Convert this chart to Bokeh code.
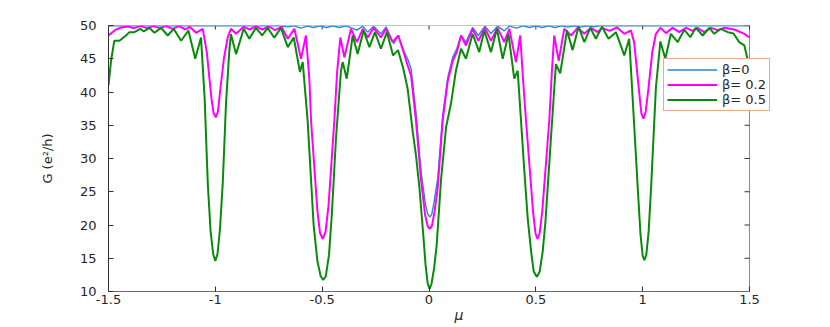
from bokeh.plotting import figure
from bokeh.models import FixedTicker, Legend, LegendItem, Range1d
from bokeh.embed import file_html
from bokeh.resources import INLINE

# ---------------- data ----------------
x_ticks = [-1.5, -1.0, -0.5, 0.0, 0.5, 1.0, 1.5]
x_tick_labels = ["-1.5", "-1", "-0.5", "0", "0.5", "1", "1.5"]
y_ticks = [10, 15, 20, 25, 30, 35, 40, 45, 50]

series_names = ["\u03b2=0", "\u03b2= 0.2", "\u03b2= 0.5"]

mu_b0 = [-1.5, -0.70, -0.66, -0.63, -0.60, -0.57, -0.54, -0.51, -0.48, -0.45, -0.42,
         -0.39, -0.36, -0.337, -0.310, -0.287, -0.259, -0.225, -0.201, -0.165, -0.144,
         -0.116, -0.100, -0.084, -0.061, -0.037, -0.016, -0.005, 0.004, 0.013, 0.024,
         0.041, 0.064, 0.088, 0.111, 0.130, 0.150, 0.173, 0.204, 0.231, 0.262, 0.290,
         0.321, 0.352, 0.376, 0.41, 0.44, 0.47, 0.50, 0.53, 0.56, 0.59, 0.62, 0.65,
         0.68, 0.71, 0.74, 0.77, 0.80, 0.85, 1.5]
G_b0 = [49.95, 49.95, 49.8, 49.95, 49.6, 49.9, 49.7, 49.95, 49.7, 49.95, 49.7,
        49.95, 49.6, 49.3, 49.9, 49.0, 49.9, 48.75, 49.8, 47.25, 48.5,
        46.0, 45.0, 43.5, 37.0, 28.0, 23.0, 21.6, 21.2, 21.6, 23.5,
        27.0, 36.5, 42.2, 45.2, 46.5, 48.5, 47.5, 49.7, 48.5, 49.9, 48.8,
        49.9, 49.2, 49.9, 49.6, 49.95, 49.7, 49.95, 49.7, 49.95, 49.7, 49.95, 49.75,
        49.95, 49.75, 49.95, 49.8, 49.95, 49.95, 49.95]

mu_b02 = [-1.500, -1.470, -1.441, -1.41, -1.38, -1.35, -1.32, -1.29, -1.26, -1.23, -1.20,
          -1.17, -1.14, -1.12, -1.090, -1.059, -1.040, -1.018, -1.008, -0.998, -0.988,
          -0.978, -0.960, -0.942, -0.927, -0.903, -0.867, -0.84, -0.81, -0.78, -0.75,
          -0.72, -0.69, -0.661, -0.630, -0.599, -0.576, -0.560, -0.552, -0.522, -0.510,
          -0.497, -0.484, -0.470, -0.443, -0.430, -0.415, -0.396, -0.365, -0.337, -0.310,
          -0.287, -0.259, -0.225, -0.201, -0.170, -0.144, -0.116, -0.100, -0.084, -0.061,
          -0.037, -0.018, -0.006, 0.004, 0.014, 0.026, 0.041, 0.064, 0.088, 0.111,
          0.130, 0.150, 0.173, 0.204, 0.231, 0.262, 0.290, 0.321, 0.352, 0.376,
          0.407, 0.427, 0.440, 0.454, 0.487, 0.498, 0.508, 0.518, 0.530, 0.563,
          0.575, 0.586, 0.607, 0.633, 0.665, 0.696, 0.727, 0.758, 0.789, 0.810,
          0.845, 0.880, 0.914, 0.945, 0.960, 0.982, 0.994, 1.004, 1.014, 1.027,
          1.045, 1.062, 1.083, 1.109, 1.140, 1.171, 1.203, 1.234, 1.256, 1.288,
          1.320, 1.351, 1.382, 1.429, 1.476, 1.500]
G_b02 = [48.5, 49.3, 49.7, 49.85, 49.6, 49.9, 49.6, 49.9, 49.6, 49.9, 49.5,
         49.9, 49.4, 49.8, 48.9, 49.5, 46.0, 39.0, 36.8, 36.2, 37.0,
         40.0, 45.0, 48.2, 49.5, 48.75, 49.8, 49.4, 49.85, 49.4, 49.85,
         49.3, 49.8, 48.0, 49.5, 45.0, 48.5, 42.0, 35.7, 22.0, 18.8,
         17.9, 19.0, 23.0, 35.7, 43.0, 48.2, 45.2, 49.5, 47.5, 49.5,
         48.2, 49.65, 48.2, 49.5, 47.5, 48.5, 45.7, 44.0, 42.5, 35.7,
         26.7, 21.5, 19.8, 19.4, 19.9, 22.0, 25.7, 35.7, 41.7, 44.7,
         46.0, 48.5, 47.0, 49.5, 47.7, 49.65, 47.7, 49.65, 47.5, 49.5,
         44.5, 48.5, 42.0, 35.7, 22.0, 18.8, 17.9, 18.8, 22.0, 35.7,
         43.0, 48.5, 44.7, 49.5, 48.5, 49.65, 48.75, 49.65, 49.0, 49.65,
         49.2, 49.7, 48.75, 49.25, 47.5, 40.5, 36.8, 36.0, 37.0, 40.5,
         46.0, 48.75, 49.65, 48.85, 49.65, 49.0, 49.65, 49.2, 49.65, 49.0,
         49.65, 49.3, 49.65, 49.4, 48.75, 48.2]

mu_b05 = [-1.500, -1.488, -1.473, -1.449, -1.418, -1.402, -1.379, -1.351, -1.335, -1.309, -1.285,
          -1.254, -1.223, -1.195, -1.160, -1.126, -1.094, -1.067, -1.050, -1.035, -1.022,
          -1.010, -1.000, -0.990, -0.978, -0.965, -0.950, -0.935, -0.927, -0.903, -0.867,
          -0.841, -0.810, -0.781, -0.755, -0.724, -0.693, -0.661, -0.633, -0.604, -0.591,
          -0.568, -0.540, -0.522, -0.507, -0.495, -0.483, -0.468, -0.455, -0.435, -0.412,
          -0.404, -0.385, -0.357, -0.334, -0.306, -0.279, -0.253, -0.225, -0.197, -0.168,
          -0.145, -0.120, -0.100, -0.076, -0.061, -0.045, -0.028, -0.016, -0.006, 0.003,
          0.012, 0.024, 0.036, 0.056, 0.080, 0.103, 0.126, 0.150, 0.173, 0.204,
          0.235, 0.259, 0.290, 0.318, 0.345, 0.372, 0.399, 0.415, 0.430, 0.446,
          0.462, 0.478, 0.490, 0.505, 0.518, 0.532, 0.545, 0.571, 0.594, 0.614,
          0.646, 0.672, 0.700, 0.727, 0.755, 0.781, 0.810, 0.840, 0.875, 0.914,
          0.937, 0.955, 0.978, 0.990, 1.000, 1.008, 1.017, 1.028, 1.040, 1.062,
          1.083, 1.106, 1.132, 1.164, 1.195, 1.223, 1.249, 1.281, 1.312, 1.335,
          1.366, 1.398, 1.425, 1.452, 1.476, 1.494, 1.500]
G_b05 = [41.0, 44.7, 47.7, 47.7, 48.5, 49.0, 49.0, 49.5, 49.1, 49.65, 48.9,
         49.65, 48.5, 49.5, 47.7, 49.25, 45.0, 48.2, 39.0, 26.0, 19.0,
         15.6, 14.6, 15.6, 19.5, 26.5, 38.3, 46.0, 48.7, 45.7, 49.5,
         48.0, 49.65, 48.5, 49.65, 48.15, 49.65, 46.75, 48.2, 43.0, 44.5,
         35.7, 20.0, 14.5, 12.3, 11.75, 12.3, 15.5, 21.5, 33.2, 43.2,
         44.5, 42.0, 48.5, 45.7, 49.25, 46.75, 49.0, 46.5, 49.0, 45.5,
         46.3, 43.5, 40.5, 34.0, 30.5, 25.7, 19.0, 14.0, 11.2, 10.4,
         11.2, 13.5, 17.0, 26.7, 34.7, 38.3, 43.2, 46.5, 45.0, 48.75,
         46.0, 49.25, 46.0, 49.5, 45.0, 48.7, 42.0, 43.2, 36.0, 28.2,
         21.0, 16.0, 13.0, 12.2, 13.0, 16.0, 20.5, 33.2, 44.2, 42.8,
         49.25, 46.3, 49.8, 47.5, 49.65, 48.0, 49.8, 48.0, 49.0, 45.5,
         48.0, 38.0, 25.0, 18.5, 15.4, 14.7, 15.5, 19.0, 26.0, 40.7,
         47.6, 45.0, 48.75, 47.5, 49.35, 48.25, 49.65, 48.5, 49.65, 48.75,
         49.5, 49.0, 48.8, 47.5, 47.0, 44.5, 41.0]

# ---------------- layout ----------------
FONT = "DejaVu Sans"
AX_COLOR = "#303030"
BOX_COLOR = "#8c8c8c"

AXES_W = 641          # pixel width of the plotted box (x from -1.5 to 1.5)
FRAME_W = 701         # frame is a bit wider so that the legend can stick out of the box
FRAME_H = 266
LEFT, TOP = 108, 25
WIDTH, HEIGHT = 815, 327

xmin, xmax_box = x_ticks[0], x_ticks[-1]
ymin, ymax = y_ticks[0], y_ticks[-1]
x_per_px = (xmax_box - xmin) / AXES_W
y_per_px = (ymax - ymin) / FRAME_H
xmax = xmin + FRAME_W * x_per_px

p = figure(width=WIDTH, height=HEIGHT, output_backend="svg", toolbar_location=None,
           x_range=Range1d(xmin, xmax), y_range=Range1d(ymin, ymax),
           min_border_left=LEFT, min_border_right=WIDTH - LEFT - FRAME_W,
           min_border_top=TOP, min_border_bottom=HEIGHT - TOP - FRAME_H)
p.grid.visible = False
p.outline_line_color = None
p.background_fill_color = "white"
p.border_fill_color = "white"

# box: top and right edges + mirrored ticks
p.segment(x0=[xmin, xmax_box], y0=[ymax, ymin], x1=[xmax_box, xmax_box], y1=[ymax, ymax],
          line_color=BOX_COLOR, line_width=1)
p.segment(x0=x_ticks, y0=[ymax] * len(x_ticks), x1=x_ticks,
          y1=[ymax - 4 * y_per_px] * len(x_ticks), line_color=AX_COLOR, line_width=1)
p.segment(x0=[xmax_box - 5 * x_per_px] * len(y_ticks), y0=y_ticks,
          x1=[xmax_box] * len(y_ticks), y1=y_ticks, line_color=AX_COLOR, line_width=1)

r0 = p.line(mu_b0, G_b0, line_color="#2e86d0", line_width=1.4)
r1 = p.line(mu_b02, G_b02, line_color="#ff00ff", line_width=2.0)
r2 = p.line(mu_b05, G_b05, line_color="#0a8a0a", line_width=2.0)

# bottom axis
xa = p.xaxis[0]
xa.ticker = FixedTicker(ticks=x_ticks)
xa.bounds = (xmin, xmax_box)
xa.major_label_overrides = {t: l for t, l in zip(x_ticks, x_tick_labels)}
xa.axis_label = "\u03bc"
xa.axis_label_text_font_style = "italic"
xa.axis_label_text_font = FONT
xa.axis_label_text_font_size = "14px"
xa.axis_label_standoff = 0
xa.axis_label_text_color = "#262626"
xa.major_label_text_font = FONT
xa.major_label_text_font_size = "13px"
xa.major_label_text_color = "#262626"
xa.major_label_standoff = 3
xa.major_tick_in = 5
xa.major_tick_out = 0
xa.minor_tick_line_color = None
xa.axis_line_color = "#6a6a6a"
xa.major_tick_line_color = AX_COLOR

# left axis
ya = p.yaxis[0]
ya.ticker = FixedTicker(ticks=y_ticks)
ya.axis_label = "G (e\u00b2/h)"
ya.axis_label_text_font = FONT
ya.axis_label_text_font_style = "normal"
ya.axis_label_text_font_size = "13px"
ya.axis_label_text_color = "#262626"
ya.axis_label_standoff = 22
ya.major_label_text_font = FONT
ya.major_label_text_font_size = "13px"
ya.major_label_text_color = "#262626"
ya.major_label_standoff = 12
ya.major_tick_in = 5
ya.major_tick_out = 0
ya.minor_tick_line_color = None
ya.axis_line_color = AX_COLOR
ya.major_tick_line_color = AX_COLOR

legend = Legend(items=[LegendItem(label=series_names[0], renderers=[r0]),
                       LegendItem(label=series_names[1], renderers=[r1]),
                       LegendItem(label=series_names[2], renderers=[r2])],
                location=(555, 180))
legend.border_line_color = "#D95319"
legend.border_line_width = 1.5
legend.background_fill_color = "white"
legend.background_fill_alpha = 1.0
legend.label_text_font = FONT
legend.label_text_font_size = "13px"
legend.label_text_color = "#262626"
legend.glyph_width = 50
legend.glyph_height = 13
legend.label_height = 13
legend.label_standoff = 5
legend.padding = 3
legend.spacing = 0
legend.margin = 0
p.add_layout(legend)

open("out.html", "w").write(file_html(p, INLINE))
